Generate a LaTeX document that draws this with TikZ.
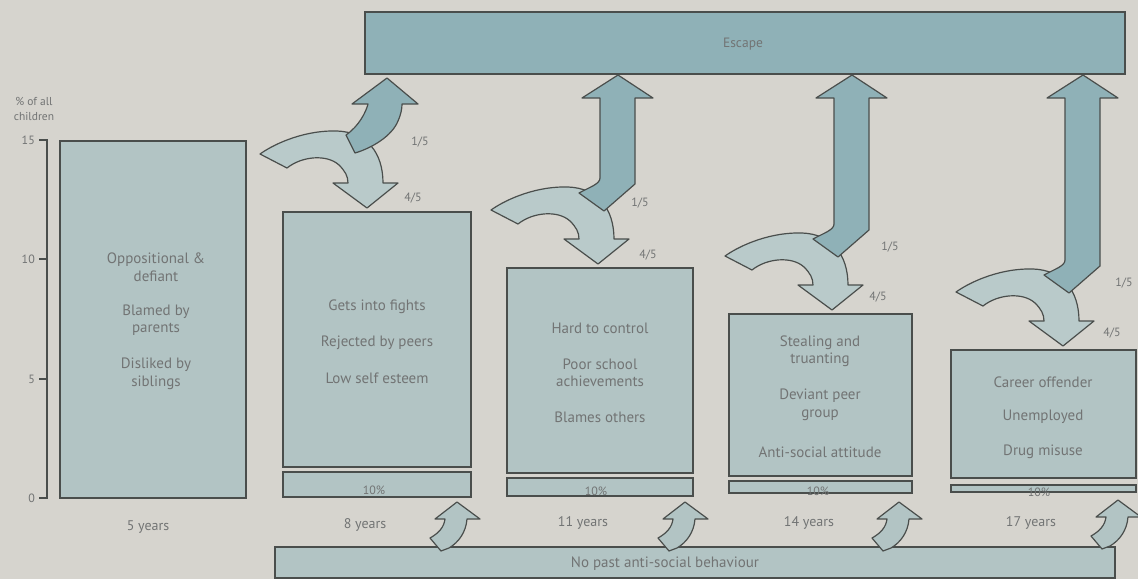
\documentclass[tikz,border=0pt]{standalone}
\usepackage{fontspec}
\setmainfont{PT Sans}
\definecolor{bgc}{HTML}{D6D4CE}
\definecolor{boxc}{HTML}{B2C4C4}
\definecolor{lightc}{HTML}{B9CACA}
\definecolor{darkc}{HTML}{8FB1B7}
\definecolor{linec}{HTML}{4A4E4C}
\definecolor{txtc}{HTML}{727474}
\newcommand{\myCurveArrow}[2]{%
  \begin{scope}[shift={(#1,#2)}]
  \path[lightarr] (0,0) -- (31,-25) -- (16,-25)
    .. controls (16,-55) and (0,-76) .. (-30,-77)
    .. controls (-60,-78) and (-90,-66) .. (-107,-54)
    -- (-80,-40)
    .. controls (-65,-52) and (-40,-54) .. (-28,-43)
    .. controls (-22,-37) and (-19,-32) .. (-19,-25)
    -- (-34,-25) -- cycle;
  \end{scope}}
\newcommand{\myEscArrow}[2]{%
  \begin{scope}[shift={(#1,#2)}]
  \path[darkarr] (-19,-71) .. controls (-8,-77) and (2,-80) .. (2,-86)
    -- (2,{98-#2}) -- (-16,{98-#2}) -- (20,{75-#2}) -- (55,{98-#2})
    -- (37,{98-#2}) -- (37,-80) -- (6,-53) -- cycle;
  \end{scope}}
\newcommand{\myUpArrow}[2]{%
  \begin{scope}[shift={(#1,#2)}]
  \path[uparr] (0,0) -- (23,17) -- (10,17)
    .. controls (9,30) and (2,40) .. (-8,46) -- (-16,49) -- (-27,36)
    .. controls (-18,31) and (-13,25) .. (-12,17) -- (-22,17) -- cycle;
  \end{scope}}
\begin{document}
\begin{tikzpicture}[x=1pt,y=-1pt,
  box/.style={draw=linec, line width=1.4pt, fill=boxc, inner sep=0pt, outer sep=0pt, anchor=north west},
  escbox/.style={box, fill=darkc},
  lbl/.style={text=txtc, font=\fontsize{15}{17.5}\selectfont, align=center, inner sep=0pt},
  yrs/.style={text=txtc, font=\fontsize{14}{17}\selectfont, inner sep=0pt},
  frac/.style={text=txtc, font=\fontsize{12}{14}\selectfont, inner sep=0pt},
  tick/.style={text=txtc, font=\fontsize{12}{14}\selectfont, inner sep=0pt, anchor=east},
  lightarr/.style={draw=linec, line width=1.2pt, fill=lightc, line join=round},
  darkarr/.style={draw=linec, line width=1.2pt, fill=darkc, line join=round},
  uparr/.style={draw=linec, line width=1.2pt, fill=boxc, line join=round},
  axisline/.style={draw=linec, line width=1.4pt}]
\path[use as bounding box, fill=bgc] (0,0) rectangle (1138,579);

% escape box
\node[escbox, minimum width=760pt, minimum height=62pt] (esc) at (365,12) {};
\node[yrs, font=\fontsize{13.5}{16}\selectfont] (esct) at (743,44) {Escape};

% axis
\draw[axisline] (39,140) -- (47,140) -- (47,498) -- (39,498);
\draw[axisline] (39,259) -- (47,259);
\draw[axisline] (39,379) -- (47,379);
\node[tick] (t15) at (35,140) {15};
\node[tick] (t10) at (35,259) {10};
\node[tick] (t5) at (35,379) {5};
\node[tick] (t0) at (35,498) {0};
\node[text=txtc, font=\fontsize{11.5}{15}\selectfont, align=center, inner sep=0pt] (ylab) at (34,109) {\% of all\\children};

% bars
\node[box, minimum width=186pt, minimum height=357pt] (b1) at (60,141) {};
\node[box, minimum width=188pt, minimum height=255pt] (b2) at (283,212) {};
\node[box, minimum width=188pt, minimum height=25pt] (s2) at (283,472) {};
\node[box, minimum width=186pt, minimum height=205pt] (b3) at (507,268) {};
\node[box, minimum width=186pt, minimum height=18pt] (s3) at (507,478) {};
\node[box, minimum width=183pt, minimum height=162pt] (b4) at (729,314) {};
\node[box, minimum width=183pt, minimum height=12pt] (s4) at (729,481) {};
\node[box, minimum width=185pt, minimum height=128pt] (b5) at (951,350) {};
\node[box, minimum width=185pt, minimum height=7pt] (s5) at (951,485) {};

% bottom bar
\node[box, minimum width=840pt, minimum height=31pt] (bar) at (275,547) {};
\node[lbl] (bart) at (665,564) {No past anti-social behaviour};

% box texts
\node[lbl] (b1a) at (156,267) {Oppositional \&\\defiant};
\node[lbl] (b1b) at (156,320) {Blamed by\\parents};
\node[lbl] (b1c) at (156,374) {Disliked by\\siblings};
\node[lbl] (b2a) at (377,307) {Gets into fights};
\node[lbl] (b2b) at (377,343) {Rejected by peers};
\node[lbl] (b2c) at (377,378) {Low self esteem};
\node[lbl] (b3a) at (600,328) {Hard to control};
\node[lbl] (b3b) at (600,373) {Poor school\\achievements};
\node[lbl] (b3c) at (600,417) {Blames others};
\node[lbl] (b4a) at (820,351) {Stealing and\\truanting};
\node[lbl] (b4b) at (820,405) {Deviant peer\\group};
\node[lbl] (b4c) at (820,452) {Anti-social attitude};
\node[lbl] (b5a) at (1043,382) {Career offender};
\node[lbl] (b5b) at (1043,417) {Unemployed};
\node[lbl] (b5c) at (1043,452) {Drug misuse};

% 10% labels
\node[frac] (p2) at (374,490) {10\%};
\node[frac] (p3) at (596,491) {10\%};
\node[frac] (p4) at (818,491) {10\%};
\node[frac] (p5) at (1039,492) {10\%};

% year labels
\node[yrs] (y5) at (148,527) {5 years};
\node[yrs] (y8) at (365,525) {8 years};
\node[yrs] (y11) at (583,523) {11 years};
\node[yrs] (y14) at (809,523) {14 years};
\node[yrs] (y17) at (1031,523) {17 years};

% stage arrows
\myCurveArrow{367}{208}
\begin{scope}[shift={(367,208)}]
\path[darkarr] (-21,-73) .. controls (-8,-82) and (-1,-96) .. (1,-104)
  -- (-15,-104) -- (20,-130) -- (51,-104) -- (35,-104)
  .. controls (35,-99) and (34,-94) .. (31,-87)
  .. controls (25,-72) and (5,-60) .. (-12,-55) -- cycle;
\end{scope}
\myCurveArrow{598}{264}
\myEscArrow{598}{264}
\myCurveArrow{832}{310}
\myEscArrow{832}{310}
\myCurveArrow{1063}{346}
\myEscArrow{1063}{346}

% fractions
\node[frac] (f1a) at (420,142) {1/5};
\node[frac] (f1b) at (413,198) {4/5};
\node[frac] (f2a) at (640,203) {1/5};
\node[frac] (f2b) at (648,255) {4/5};
\node[frac] (f3a) at (890,247) {1/5};
\node[frac] (f3b) at (878,297) {4/5};
\node[frac] (f4a) at (1124,283) {1/5};
\node[frac] (f4b) at (1112,333) {4/5};

% up arrows from bottom bar
\myUpArrow{457}{502}
\myUpArrow{685}{502}
\myUpArrow{899}{502}
\myUpArrow{1118}{500}
\end{tikzpicture}
\end{document}
